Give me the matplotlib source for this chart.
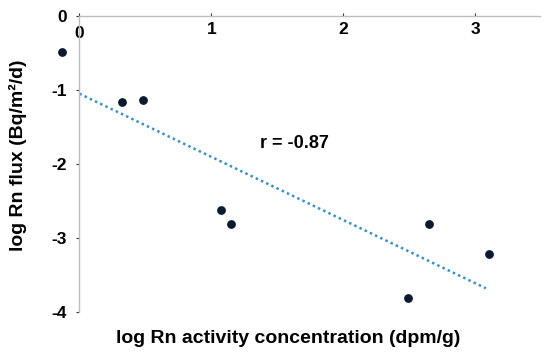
import matplotlib
matplotlib.use('Agg')
import matplotlib.pyplot as plt
from matplotlib.transforms import ScaledTranslation

plt.rcParams['font.family'] = ['Liberation Sans', 'DejaVu Sans']
plt.rcParams['font.weight'] = 'bold'

# data
rn_activity = [-0.13, 0.32, 0.48, 1.07, 1.15, 2.49, 2.65, 3.10]
rn_flux = [-0.49, -1.16, -1.14, -2.62, -2.81, -3.81, -2.81, -3.22]
trend_x = [0.0, 3.08]
trend_y = [-1.05, -3.68]
x_ticks = [0, 1, 2, 3]
y_ticks = [0, -1, -2, -3, -4]

fig = plt.figure(figsize=(5.5, 3.53), dpi=100)
ax = fig.add_axes([0.0964, 0.0952, 0.8855, 0.8595])

ax.plot(trend_x, trend_y, linestyle=(0, (1, 1.3)), color='#3a8fc8', lw=1.8)
ax.scatter(rn_activity, rn_flux, s=28, color='#0b1a2e', zorder=3)
ax.text(1.63, -1.72, 'r = -0.87', fontsize=13, fontweight='bold', ha='center', va='center')

ax.set_xlim(-0.2, 3.49)
ax.set_ylim(-4.1, 0)

for side in ['bottom', 'right']:
    ax.spines[side].set_visible(False)
ax.spines['left'].set_position(('data', 0))
ax.spines['left'].set_bounds(-4, 0)
ax.spines['top'].set_bounds(0, 3.49)
for side in ['left', 'top']:
    ax.spines[side].set_color('#bdbdbd')
    ax.spines[side].set_linewidth(1)

ax.xaxis.tick_top()
ax.set_xticks(x_ticks)
ax.set_xticklabels([str(v) for v in x_ticks])
ax.tick_params(axis='x', top=True, bottom=False, labeltop=True, labelbottom=False,
               direction='out', length=2, color='#333333', pad=-17, labelsize=12.5)
ax.set_yticks(y_ticks)
ax.set_yticklabels([str(v) for v in y_ticks])
ax.tick_params(axis='y', direction='out', length=2, color='#333333', pad=7, labelsize=12.5)

# the x "0" sits a little lower than the others
lab0 = ax.get_xticklabels()[0]
lab0.set_transform(lab0.get_transform() + ScaledTranslation(0, -0.045, fig.dpi_scale_trans))

ax.set_xlabel('log Rn activity concentration (dpm/g)', fontsize=14, fontweight='bold')
ax.xaxis.set_label_position('bottom')
ax.xaxis.set_label_coords(0.4825, -0.035)
ax.set_ylabel('log Rn flux (Bq/m²/d)', fontsize=14, fontweight='bold')
ax.yaxis.set_label_coords(-0.053, 0.542)

fig.savefig('out.png', dpi=100)
